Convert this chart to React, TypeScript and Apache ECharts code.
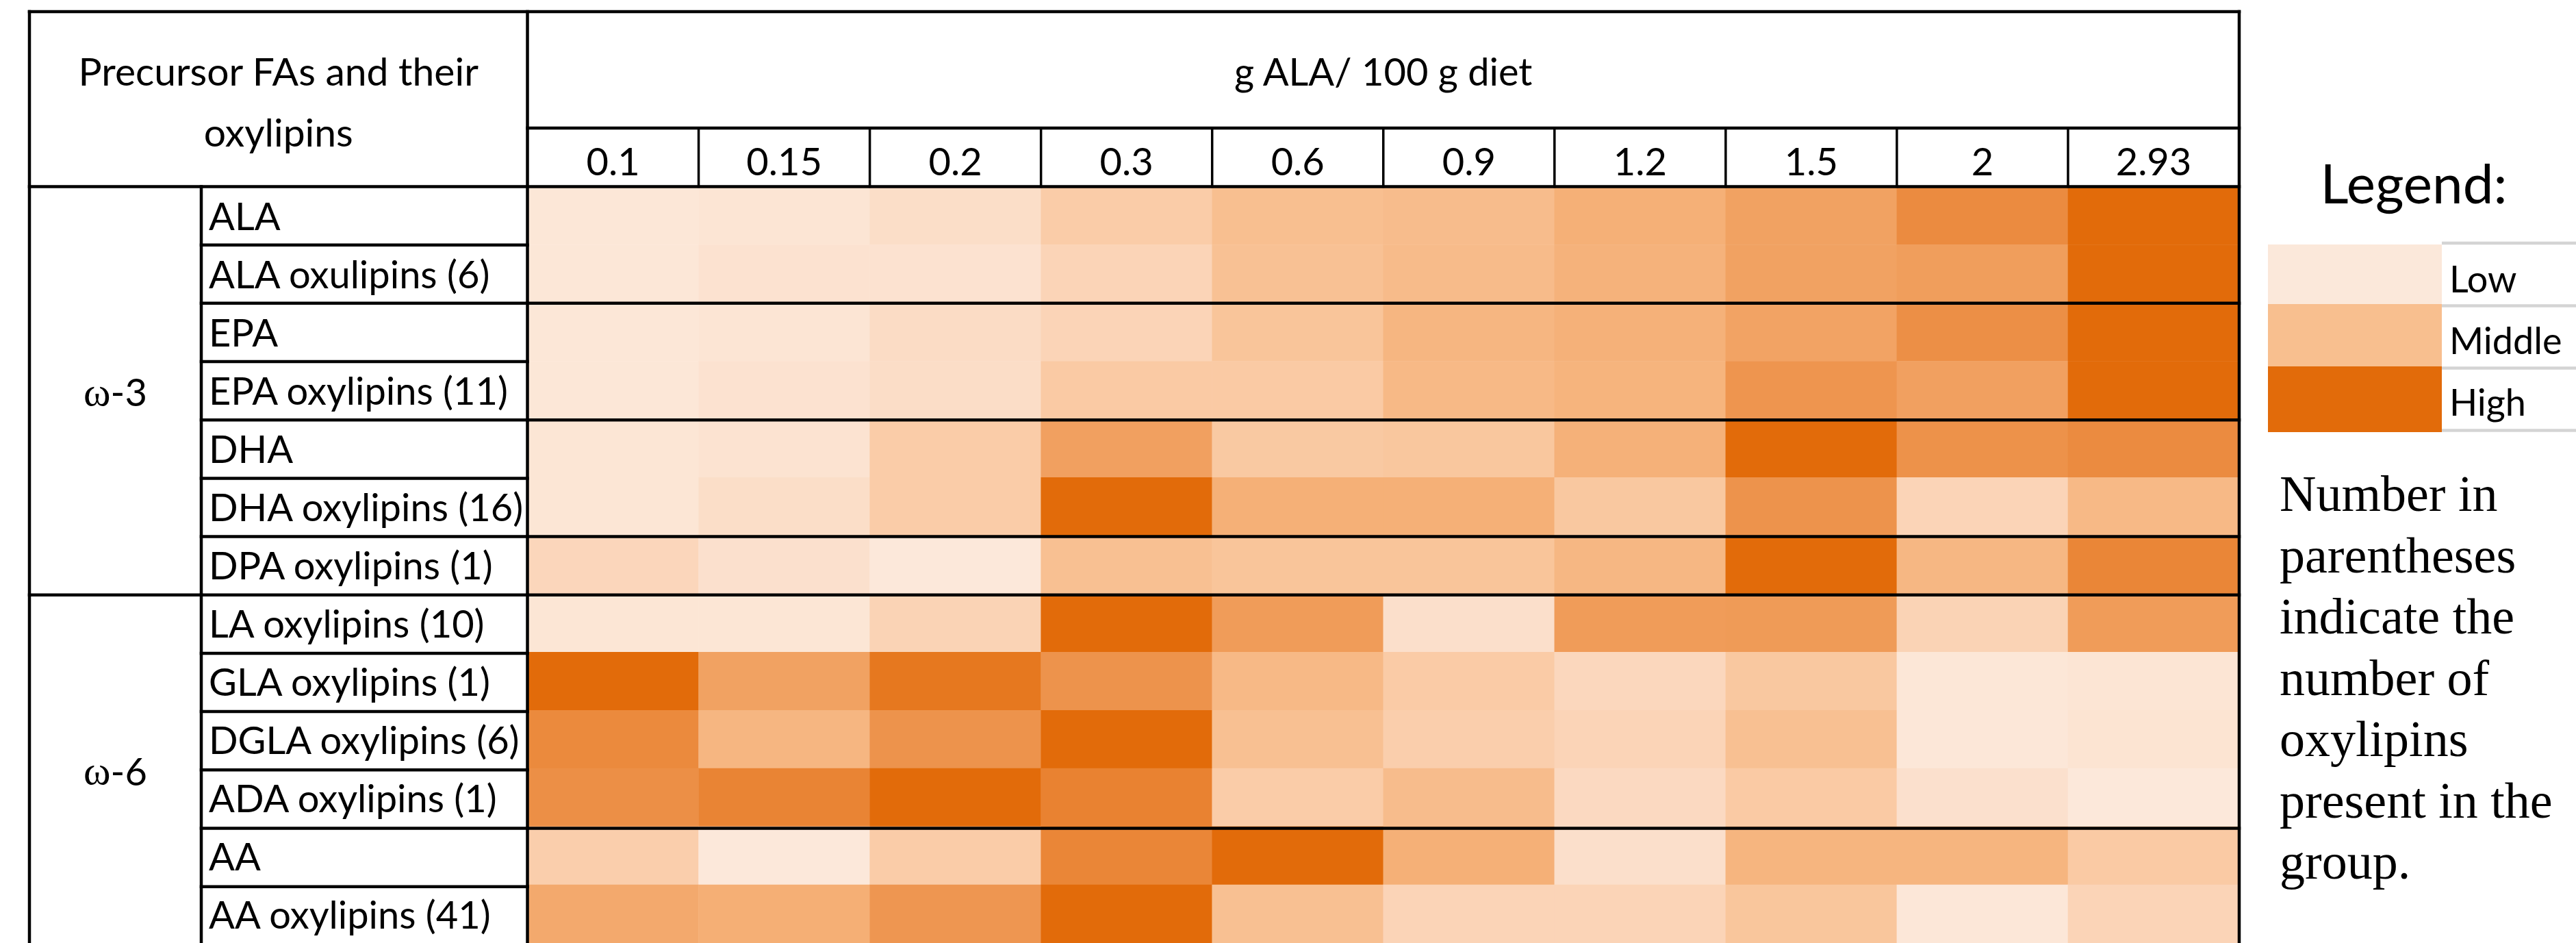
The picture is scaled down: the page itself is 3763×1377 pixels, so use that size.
import React, { useEffect, useRef } from "react";
import * as echarts from "echarts";

// Column categories: dietary ALA dose (g ALA / 100 g diet)
const DOSES = ["0.1", "0.15", "0.2", "0.3", "0.6", "0.9", "1.2", "1.5", "2", "2.93"];

// Row categories: precursor fatty acids and their oxylipin groups
const ROW_LABELS = [
  "ALA",
  "ALA oxulipins (6)",
  "EPA",
  "EPA oxylipins (11)",
  "DHA",
  "DHA oxylipins (16)",
  "DPA oxylipins (1)",
  "LA oxylipins (10)",
  "GLA oxylipins (1)",
  "DGLA oxylipins (6)",
  "ADA oxylipins (1)",
  "AA",
  "AA oxylipins (41)",
];

// Relative level per row (0 = lowest, 100 = highest), one value per dose
const ALA = [5, 7, 15, 33, 45, 47, 57, 67, 82, 100];
const ALA_OXY = [5, 10, 10, 25, 43, 48, 55, 67, 70, 100];
const EPA = [5, 7, 17, 25, 40, 52, 56, 66, 80, 100];
const EPA_OXY = [5, 10, 16, 35, 35, 50, 54, 76, 68, 100];
const DHA = [6, 9, 33, 68, 36, 38, 56, 100, 78, 82];
const DHA_OXY = [6, 15, 33, 100, 57, 57, 37, 77, 25, 50];
const DPA_OXY = [23, 12, 3, 44, 40, 40, 51, 100, 51, 85];
const LA_OXY = [6, 6, 26, 100, 71, 13, 71, 72, 26, 71];
const GLA_OXY = [100, 67, 93, 77, 50, 34, 22, 37, 5, 7];
const DGLA_OXY = [83, 52, 77, 100, 44, 31, 25, 44, 4, 8];
const ADA_OXY = [80, 86, 100, 87, 33, 47, 20, 35, 12, 3];
const AA = [31, 3, 33, 85, 100, 57, 13, 53, 53, 35];
const AA_OXY = [62, 58, 75, 100, 44, 25, 25, 39, 4, 25];

const ROW_VALUES = [
  ALA, ALA_OXY, EPA, EPA_OXY, DHA, DHA_OXY, DPA_OXY,
  LA_OXY, GLA_OXY, DGLA_OXY, ADA_OXY, AA, AA_OXY,
];

// Omega families: label suffix and the row span each one covers
const GROUP_NAMES = ["3", "6"];
const GROUP_SPANS = [[0, 7], [7, 13]];

// Row boundaries that get a rule across the heatmap
const BLOCK_BREAKS = [2, 4, 6, 7, 11];

// Colour ramp from low to high
const SCALE_COLORS = ["#FCEBDE", "#FBD9C1", "#F9C59A", "#F4AC71", "#EC8F46", "#E26B0A"];

// Key on the right
const KEY_LABELS = ["Low", "Middle", "High"];
const KEY_COLORS = ["#FBE8DA", "#F8BF8F", "#E26B0A"];
const NOTE_LINES = [
  "Number in",
  "parentheses",
  "indicate the",
  "number of",
  "oxylipins",
  "present in the",
  "group.",
];

const W = 3763;
const H = 1377;

export default function App() {
  const ref = useRef<HTMLDivElement>(null);

  useEffect(() => {
    if (!ref.current) return;
    const chart = echarts.init(ref.current, null, { renderer: "svg" });

    const SANS = "Lato";
    const SERIF = "Liberation Serif";
    const FS = 56;
    const FS_HEAD = 57;

    // table geometry
    const X0 = 43;
    const XG = 294;
    const XL = 770.5;
    const X1 = 3271;
    const Y0 = 17;
    const YH = 187;
    const GT = 272.5;
    const ROW_H = 85.18;
    const COL_W = (X1 - XL) / DOSES.length;
    const YB = GT + ROW_H * ROW_LABELS.length;
    const rowY = (k: number) => GT + k * ROW_H;

    const data: number[][] = [];
    ROW_VALUES.forEach((vals, r) => {
      vals.forEach((v, c) => data.push([c, r, v]));
    });

    const graphics: any[] = [];
    const LW = 4.5;
    const line = (x1: number, y1: number, x2: number, y2: number, w = LW) =>
      graphics.push({
        type: "line",
        z: 100,
        silent: true,
        shape: { x1, y1, x2, y2 },
        style: { stroke: "#000", lineWidth: w, lineCap: "square" },
      });

    // outer frame and main dividers
    line(X0, Y0, X1, Y0);
    line(X0, Y0, X0, YB);
    line(X1, Y0, X1, YB);
    line(XL, Y0, XL, YB);
    line(XG, GT, XG, YB);
    line(XL, YH, X1, YH);
    line(X0, GT, X1, GT);
    for (let c = 1; c < DOSES.length; c++) {
      const x = XL + c * COL_W;
      line(x, YH, x, GT, 3.5);
    }
    for (let k = 1; k < ROW_LABELS.length; k++) {
      line(XG, rowY(k), XL, rowY(k));
    }
    BLOCK_BREAKS.forEach((k) => line(XL, rowY(k), X1, rowY(k)));
    line(X0, rowY(7), XG, rowY(7));

    const text = (
      x: number,
      y: number,
      t: string,
      size: number,
      family: string,
      align = "center",
      extra: any = {}
    ) =>
      graphics.push({
        type: "text",
        z: 100,
        silent: true,
        x,
        y,
        style: {
          text: t,
          fill: "#000",
          fontSize: size,
          fontFamily: family,
          align,
          verticalAlign: "middle",
          ...extra,
        },
      });

    // header cells
    text((X0 + XL) / 2, 102.5, "Precursor FAs and their", FS_HEAD, SANS);
    text((X0 + XL) / 2, 191.5, "oxylipins", FS_HEAD, SANS);
    text((XL + X1) / 2, 103.5, "g ALA/ 100 g diet", FS, SANS);

    // omega family labels
    GROUP_NAMES.forEach((g, i) => {
      const [a, b] = GROUP_SPANS[i];
      text((X0 + XG) / 2, (rowY(a) + rowY(b)) / 2 + 1, `{w|ω}-${g}`, FS, SANS, "center", {
        rich: { w: { fontFamily: SERIF, fontSize: 60, fill: "#000" } },
      });
    });

    // key
    text(3526, 266, "Legend:", 80, SANS);
    const keyTops = [357, 444, 535, 631];
    KEY_LABELS.forEach((lab, i) => {
      graphics.push({
        type: "rect",
        z: 100,
        silent: true,
        shape: { x: 3313, y: keyTops[i], width: 254, height: keyTops[i + 1] - keyTops[i] },
        style: { fill: KEY_COLORS[i] },
      });
      text(3578, [406, 496.5, 586.5][i], lab, 54, SANS, "left");
    });
    [355, 446.5, 537.5, 628.5].forEach((y) =>
      graphics.push({
        type: "line",
        z: 99,
        silent: true,
        shape: { x1: 3567, y1: y, x2: W, y2: y },
        style: { stroke: "#D4D4D4", lineWidth: 4.5 },
      })
    );

    // note
    NOTE_LINES.forEach((t, i) => {
      text(3330, 746 + i * 89.5 - 25, t, 74, SERIF, "left");
    });

    const option: any = {
      animation: false,
      backgroundColor: "#fff",
      grid: { left: XL, top: GT, width: X1 - XL, height: YB - GT, containLabel: false },
      xAxis: {
        type: "category",
        data: DOSES,
        position: "top",
        axisLine: { show: false },
        axisTick: { show: false },
        splitLine: { show: false },
        axisLabel: {
          interval: 0,
          margin: 38,
          verticalAlign: "middle",
          fontSize: FS,
          fontFamily: SANS,
          color: "#000",
        },
      },
      yAxis: {
        type: "category",
        data: ROW_LABELS,
        inverse: true,
        axisLine: { show: false },
        axisTick: { show: false },
        splitLine: { show: false },
        axisLabel: {
          interval: 0,
          align: "left",
          margin: XL - 305,
          verticalAlign: "middle",
          padding: [6, 0, 0, 0],
          fontSize: FS,
          fontFamily: SANS,
          color: "#000",
        },
      },
      visualMap: {
        show: false,
        type: "continuous",
        min: 0,
        max: 100,
        dimension: 2,
        inRange: { color: SCALE_COLORS },
      },
      series: [
        {
          type: "heatmap",
          data,
          itemStyle: { borderWidth: 0 },
          emphasis: { disabled: true },
          label: { show: false },
        },
      ],
      graphic: { elements: graphics },
    };

    chart.setOption(option);
    return () => chart.dispose();
  }, []);

  return (
    <div
      ref={ref}
      style={{ position: "fixed", left: 0, top: 0, width: W, height: H, background: "#fff" }}
    />
  );
}
